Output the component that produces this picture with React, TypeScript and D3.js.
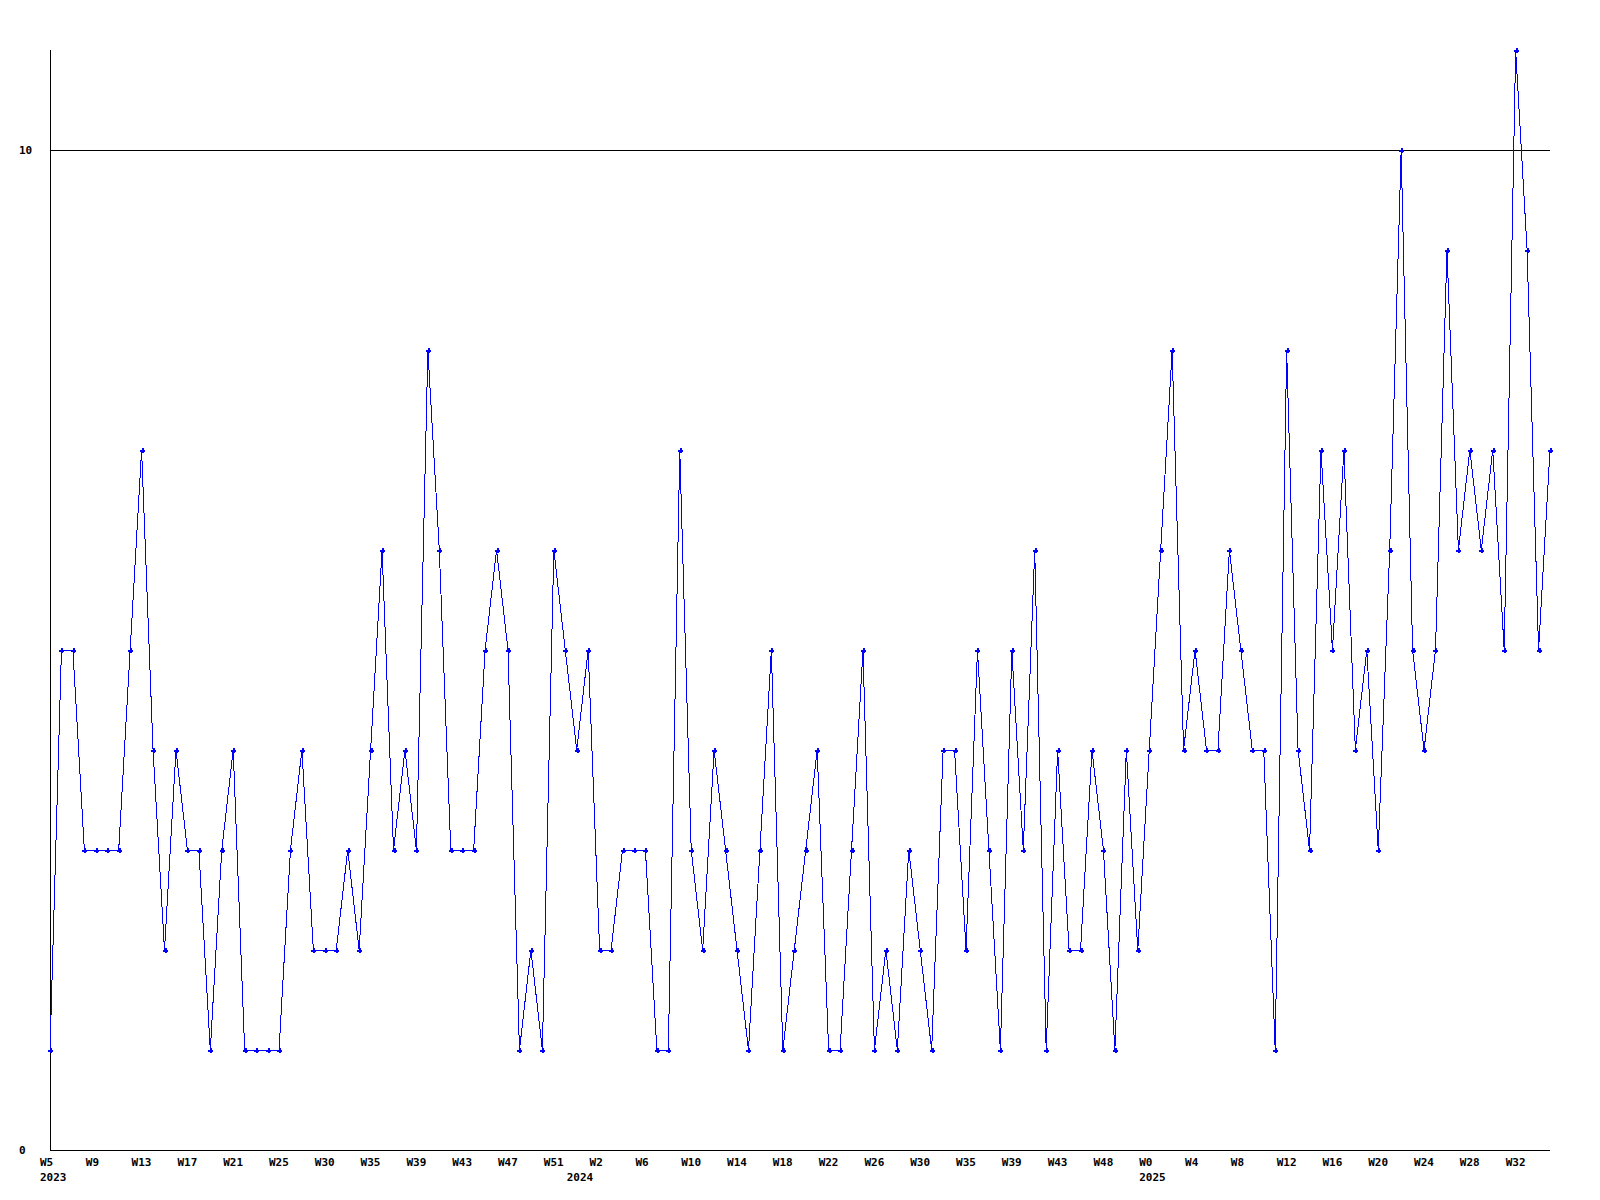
import React from "react";
import * as d3 from "d3";

const values: number[] = [
  1, 5, 5, 3, 3, 3, 3, 5, 7, 4, 2, 4, 3, 3, 1, 3, 4, 1, 1, 1, 1, 3, 4, 2, 2, 2, 3, 2, 4, 6,
  3, 4, 3, 8, 6, 3, 3, 3, 5, 6, 5, 1, 2, 1, 6, 5, 4, 5, 2, 2, 3, 3, 3, 1, 1, 7, 3, 2, 4, 3,
  2, 1, 3, 5, 1, 2, 3, 4, 1, 1, 3, 5, 1, 2, 1, 3, 2, 1, 4, 4, 2, 5, 3, 1, 5, 3, 6, 1, 4, 2,
  2, 4, 3, 1, 4, 2, 4, 6, 8, 4, 5, 4, 4, 6, 5, 4, 4, 1, 8, 4, 3, 7, 5, 7, 4, 5, 3, 6, 10, 5,
  4, 5, 9, 6, 7, 6, 7, 5, 11, 9, 5, 7,
];

const weekLabels: string[] = [
  "W5", "W9", "W13", "W17", "W21", "W25", "W30", "W35", "W39", "W43", "W47", "W51",
  "W2", "W6", "W10", "W14", "W18", "W22", "W26", "W30", "W35", "W39", "W43", "W48",
  "W0", "W4", "W8", "W12", "W16", "W20", "W24", "W28", "W32",
];
const labelStep = 4;

const yearLabels: { text: string; index: number }[] = [
  { text: "2023", index: 0 },
  { text: "2024", index: 46 },
  { text: "2025", index: 96 },
];

const yTicks: number[] = [0, 10];

export default function App() {
  const W = 1600;
  const H = 1200;
  const left = 50;
  const right = 1550;
  const top = 50;
  const bottom = 1150;

  const x = d3.scaleLinear().domain([0, values.length - 1]).range([left, right]);
  const y = d3.scaleLinear().domain([0, 11]).range([bottom, top]);

  const line = d3
    .line<number>()
    .x((_, i) => x(i))
    .y((d) => y(d));

  const font = "'DejaVu Sans Mono', 'Liberation Mono', monospace";

  return (
    <svg
      width={W}
      height={H}
      style={{ position: "absolute", left: 0, top: 0, background: "#fff" }}
    >
      <rect x={0} y={0} width={W} height={H} fill="#fff" />
      {/* grid line at 10 */}
      <line x1={left} x2={right} y1={y(10) + 0.5} y2={y(10) + 0.5} stroke="#000" strokeWidth={1} shapeRendering="crispEdges" />
      {/* axes */}
      <line x1={left + 0.5} x2={left + 0.5} y1={top} y2={bottom} stroke="#000" strokeWidth={1} shapeRendering="crispEdges" />
      <line x1={left} x2={right} y1={bottom + 0.5} y2={bottom + 0.5} stroke="#000" strokeWidth={1} shapeRendering="crispEdges" />

      {yTicks.map((t) => (
        <text
          key={t}
          x={19}
          y={y(t) + 4}
          fontFamily={font}
          fontWeight="bold"
          fontSize={11}
          fill="#000"
        >
          {t}
        </text>
      ))}

      {weekLabels.map((l, k) => (
        <text
          key={k}
          x={x(k * labelStep) - 10}
          y={1166}
          fontFamily={font}
          fontWeight="bold"
          fontSize={11}
          fill="#000"
        >
          {l}
        </text>
      ))}

      {yearLabels.map((yl) => (
        <text
          key={yl.text}
          x={x(yl.index) - 10}
          y={1181}
          fontFamily={font}
          fontWeight="bold"
          fontSize={11}
          fill="#000"
        >
          {yl.text}
        </text>
      ))}

      <path d={line(values) || ""} fill="none" stroke="#0000ff" strokeWidth={1} shapeRendering="crispEdges" />

      {values.map((v, i) => {
        const cx = Math.round(x(i));
        const cy = Math.round(y(v));
        return (
          <g key={i} fill="#0000ff" shapeRendering="crispEdges">
            <rect x={cx - 2} y={cy - 0.5} width={5} height={2} />
            <rect x={cx - 0.5} y={cy - 2} width={2} height={5} />
          </g>
        );
      })}
    </svg>
  );
}
